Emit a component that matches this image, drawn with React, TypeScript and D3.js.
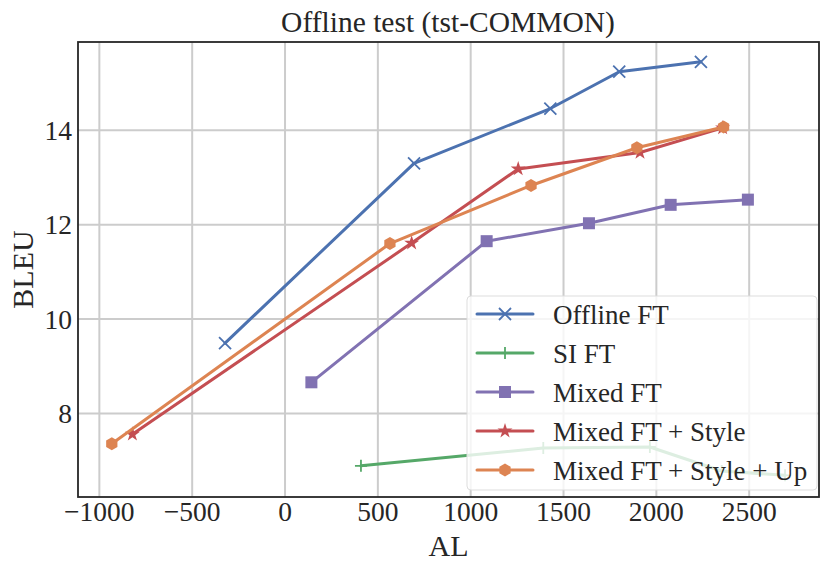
import React from "react";
import * as d3 from "d3";

const seriesNames = ["Offline FT", "SI FT", "Mixed FT", "Mixed FT + Style", "Mixed FT + Style + Up"];
const seriesColors = ["#4C72B0", "#55A868", "#8172B2", "#C44E52", "#DD8452"];
const seriesMarkers = ["x", "plus", "square", "star", "hexagon"];

const offlineAL = [-323, 695, 1429, 1800, 2240];
const offlineBLEU = [9.49, 13.3, 14.46, 15.24, 15.45];
const siAL = [409, 1391, 1965, 2352, 2693];
const siBLEU = [6.89, 7.27, 7.29, 6.78, 6.69];
const mixedAL = [142, 1086, 1637, 2077, 2493];
const mixedBLEU = [8.66, 11.65, 12.03, 12.42, 12.53];
const styleAL = [-822, 682, 1256, 1912, 2357];
const styleBLEU = [7.56, 11.61, 13.18, 13.53, 14.05];
const upAL = [-933, 565, 1325, 1895, 2362];
const upBLEU = [7.36, 11.6, 12.83, 13.63, 14.07];

const xTicks = [-1000, -500, 0, 500, 1000, 1500, 2000, 2500];
const yTicks = [8, 10, 12, 14];

const W = 831, H = 573;
const M = { left: 78, right: 819, top: 42, bottom: 497 };
const FONT = "'Liberation Serif', 'DejaVu Serif', serif";

function Marker({ type, x, y, color }: { type: string; x: number; y: number; color: string }) {
  if (type === "x") {
    const s = 6;
    return <path d={`M${x - s},${y - s}L${x + s},${y + s}M${x - s},${y + s}L${x + s},${y - s}`} stroke={color} strokeWidth={1.8} fill="none" />;
  }
  if (type === "plus") {
    const s = 6;
    return <path d={`M${x - s},${y}L${x + s},${y}M${x},${y - s}L${x},${y + s}`} stroke={color} strokeWidth={1.8} fill="none" />;
  }
  if (type === "square") {
    const s = 6;
    return <rect x={x - s} y={y - s} width={2 * s} height={2 * s} fill={color} />;
  }
  if (type === "star") {
    const p = d3.symbol(d3.symbolStar, 70)();
    return <path d={p || ""} transform={`translate(${x},${y})`} fill={color} />;
  }
  const r = 6.5;
  const pts = d3.range(6).map((i) => {
    const a = (Math.PI / 3) * i + Math.PI / 2;
    return [x + r * Math.cos(a), y + r * Math.sin(a)];
  });
  return <path d={"M" + pts.map((p) => p.join(",")).join("L") + "Z"} fill={color} />;
}

export default function App() {
  const x = d3.scaleLinear().domain([-1115, 2876]).range([M.left, M.right]);
  const y = d3.scaleLinear().domain([6.23, 15.87]).range([M.bottom, M.top]);
  const data = [
    [offlineAL, offlineBLEU],
    [siAL, siBLEU],
    [mixedAL, mixedBLEU],
    [styleAL, styleBLEU],
    [upAL, upBLEU],
  ];
  const line = d3.line<number[]>().x((d) => x(d[0])).y((d) => y(d[1]));
  const legX = 467, legY = 296, legW = 350, legH = 194;
  const rowY = (i: number) => 314 + i * 39;

  return (
    <svg width={W} height={H} style={{ position: "absolute", left: 0, top: 0, background: "#fff" }} fontFamily={FONT}>
      <rect x={0} y={0} width={W} height={H} fill="#fff" />
      {xTicks.map((t) => (
        <line key={"gx" + t} x1={x(t)} x2={x(t)} y1={M.top} y2={M.bottom} stroke="#cccccc" strokeWidth={2} />
      ))}
      {yTicks.map((t) => (
        <line key={"gy" + t} x1={M.left} x2={M.right} y1={y(t)} y2={y(t)} stroke="#cccccc" strokeWidth={2} />
      ))}
      {data.map(([xs, ys], i) => {
        const pts = xs.map((v, j) => [v, ys[j]]);
        return (
          <g key={"s" + i}>
            <path d={line(pts) || ""} fill="none" stroke={seriesColors[i]} strokeWidth={3} strokeLinejoin="round" strokeLinecap="round" />
            {pts.map((p, j) => (
              <Marker key={j} type={seriesMarkers[i]} x={x(p[0])} y={y(p[1])} color={seriesColors[i]} />
            ))}
          </g>
        );
      })}
      <rect x={M.left} y={M.top} width={M.right - M.left} height={M.bottom - M.top} fill="none" stroke="#262626" strokeWidth={1.8} />
      {xTicks.map((t) => (
        <text key={"tx" + t} x={x(t)} y={521} textAnchor="middle" fontSize={27.5} fill="#262626">
          {t < 0 ? "\u2212" + Math.abs(t) : String(t)}
        </text>
      ))}
      {yTicks.map((t) => (
        <text key={"ty" + t} x={72} y={y(t) + 9.5} textAnchor="end" fontSize={27.5} fill="#262626">
          {t}
        </text>
      ))}
      <text x={448} y={32} textAnchor="middle" fontSize={29.5} fill="#262626">
        Offline test (tst-COMMON)
      </text>
      <text x={(M.left + M.right) / 2} y={556} textAnchor="middle" fontSize={30} fill="#262626">
        AL
      </text>
      <text transform={`translate(33,${(M.top + M.bottom) / 2}) rotate(-90)`} textAnchor="middle" fontSize={30} fill="#262626">
        BLEU
      </text>
      <rect x={legX} y={legY} width={legW} height={legH} rx={4} fill="#fff" fillOpacity={0.8} stroke="#dddddd" strokeWidth={1} />
      {seriesNames.map((n, i) => (
        <g key={"l" + i}>
          <line x1={477} x2={533} y1={rowY(i)} y2={rowY(i)} stroke={seriesColors[i]} strokeWidth={3} strokeLinecap="round" />
          <Marker type={seriesMarkers[i]} x={505} y={rowY(i)} color={seriesColors[i]} />
          <text x={553} y={rowY(i) + 9.5} fontSize={27} fill="#262626">
            {n}
          </text>
        </g>
      ))}
    </svg>
  );
}
